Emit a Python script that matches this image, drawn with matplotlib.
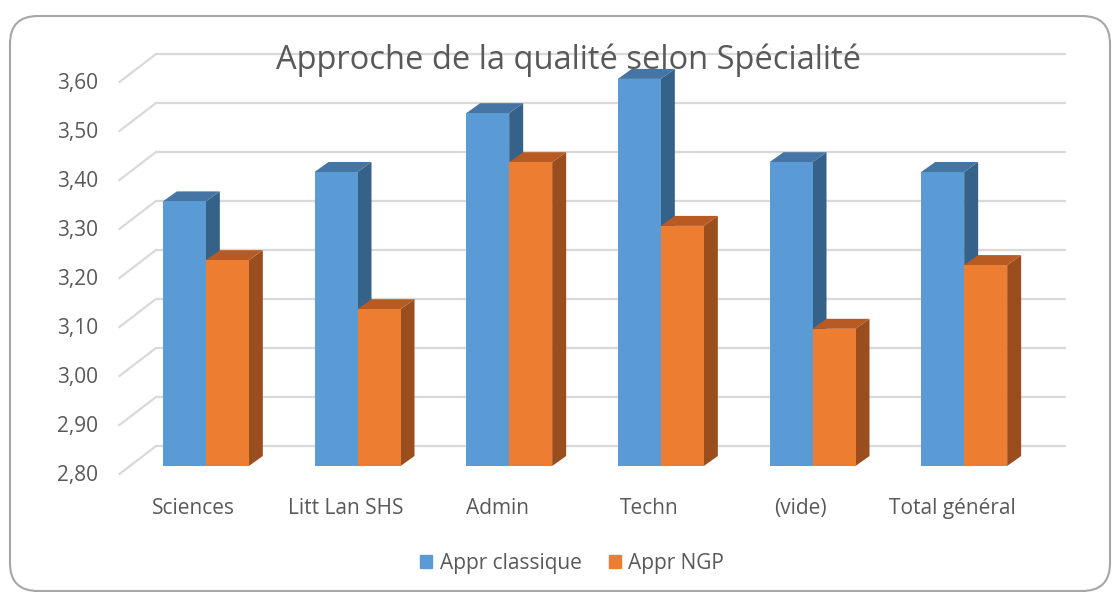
import numpy as np
import matplotlib
matplotlib.use("Agg")
import matplotlib.pyplot as plt
from matplotlib.patches import Polygon, Patch, FancyBboxPatch

plt.rcParams['font.family'] = ['Open Sans', 'DejaVu Sans']

categories = ['Sciences', 'Litt Lan SHS', 'Admin', 'Techn', '(vide)', 'Total général']
classique = [3.34, 3.40, 3.52, 3.59, 3.42, 3.40]
ngp = [3.22, 3.12, 3.42, 3.29, 3.08, 3.21]
series_names = ['Appr classique', 'Appr NGP']
yticks = [2.80, 2.90, 3.00, 3.10, 3.20, 3.30, 3.40, 3.50, 3.60]

W, H = 1112, 592
text_col = '#595959'
grid_col = '#D9D9D9'
colors = {  # front, top, side
    'blue': ('#5B9BD5', '#4575A5', '#346289'),
    'orange': ('#ED7D31', '#B85A22', '#9A4E1E'),
}

fig = plt.figure(figsize=(W / 100, H / 100), dpi=100)

# rounded frame
frame = FancyBboxPatch((10 / W, 1 - 591 / H), 1100 / W, 575 / H,
                       boxstyle="round,pad=0,rounding_size=0.025",
                       transform=fig.transFigure, fc='none', ec='#A6A6A6', lw=1.5,
                       mutation_aspect=W / H)
fig.patches.append(frame)

# axes = front plane of the bars
ax = fig.add_axes([130 / W, (H - 466) / H, 910 / W, 392 / H])
ax.set_xlim(-0.5, 5.5)
ax.set_ylim(2.8, 3.6)
ax.axis('off')

px_x = 910 / 6      # pixels per category
px_y = 392 / 0.8    # pixels per unit
ymin = 2.8

# back wall and left wall offsets
wall_dx, wall_dy = 26 / px_x, 20 / px_y
front_dx, front_dy = -10.6 / px_x, -8 / px_y
for v in yticks:
    ax.plot([-0.5 + wall_dx, 5.5 + wall_dx], [v + wall_dy, v + wall_dy],
            color=grid_col, lw=1.6, zorder=0, clip_on=False, solid_capstyle='butt')
    ax.plot([-0.5 + front_dx, -0.5 + wall_dx], [v + front_dy, v + wall_dy],
            color=grid_col, lw=1.6, zorder=0, clip_on=False)
    ax.text(-0.5 + front_dx - 21 / px_x, v + front_dy - 1.5 / px_y, f"{v:.2f}".replace('.', ','),
            ha='right', va='center', fontsize=15, color=text_col)

# 3D bars
w = 43 / px_x
ddx, ddy = 14 / px_x, 10 / px_y
x = np.arange(len(categories))
z = 2
for i in range(len(categories)):
    for xl, v, key in [(x[i] - w, classique[i], 'blue'), (x[i], ngp[i], 'orange')]:
        front, top, side = colors[key]
        ax.add_patch(Polygon([(xl + w, ymin), (xl + w, v), (xl + w + ddx, v + ddy),
                              (xl + w + ddx, ymin + ddy)], closed=True, fc=side, ec='none',
                             zorder=z, clip_on=False))
        ax.add_patch(Polygon([(xl, v), (xl + w, v), (xl + w + ddx, v + ddy), (xl + ddx, v + ddy)],
                             closed=True, fc=top, ec='none', zorder=z, clip_on=False))
        ax.bar(xl, v - ymin, bottom=ymin, width=w, align='edge', color=front,
               zorder=z + 0.5, clip_on=False)
        z += 1

for i, c in enumerate(categories):
    ax.text(x[i] - 12 / px_x, ymin - 42 / px_y, c, ha='center', va='center',
            fontsize=15, color=text_col)

fig.text(568 / W, 1 - 60 / H, 'Approche de la qualité selon Spécialité',
         ha='center', va='center', fontsize=23.5, color=text_col)

handles = [Patch(color=colors['blue'][0]), Patch(color=colors['orange'][0])]
fig.legend(handles, series_names, loc='center', bbox_to_anchor=(572 / W, 1 - 563 / H),
           ncol=2, frameon=False, fontsize=15, handlelength=0.6, handleheight=0.6,
           handletextpad=0.35, columnspacing=1.3, labelcolor=text_col)

fig.savefig('out.png', dpi=100)
